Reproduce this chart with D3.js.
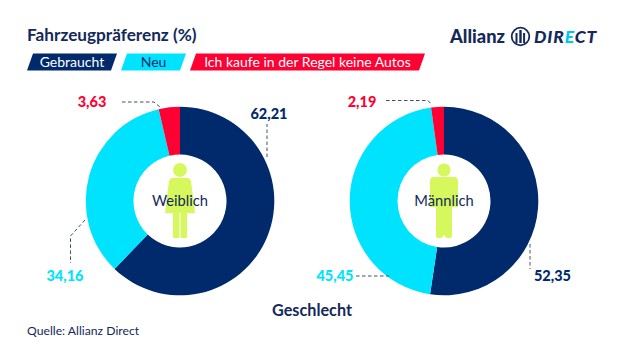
<!DOCTYPE html>
<html>
<head>
<meta charset="utf-8">
<script src="https://cdn.jsdelivr.net/npm/d3@7"></script>
<style>
  html, body { margin: 0; background: #fff; }
  svg { display: block; font-family: Lato, "Open Sans", sans-serif; }
</style>
</head>
<body>
<svg id="chart" width="624" height="361"></svg>
<script>
const categories = ['Gebraucht', 'Neu', 'Ich kaufe in der Regel keine Autos'];
const weiblich = [62.21, 34.16, 3.63];
const maennlich = [52.35, 45.45, 2.19];
const labelsWeiblich = ['62,21', '34,16', '3,63'];
const labelsMaennlich = ['52,35', '45,45', '2,19'];

const navy = '#002a6c';
const ink = '#13295a';
const lime = '#d6f85c';
const colors = d3.scaleOrdinal().domain(categories).range([navy, '#00e3ff', '#ff0033']);

const svg = d3.select('#chart');

svg.append('text').attr('x', 27).attr('y', 41)
  .attr('font-size', 17.2).attr('font-weight', 700).attr('fill', ink)
  .text('Fahrzeugpräferenz (%)');

// legend chips
const chips = [[27, 117], [121, 186], [190, 425]];
const chipTop = 53.5, chipBottom = 70.5, slant = 6;
const legend = svg.append('g').selectAll('g').data(categories).join('g');
legend.append('polygon')
  .attr('points', (d, i) => {
    const [a, b] = chips[i];
    return [[a + slant, chipTop], [b, chipTop], [b - slant, chipBottom], [a, chipBottom]].join(' ');
  })
  .attr('fill', (d) => colors(d));
legend.append('text')
  .attr('x', (d, i) => (chips[i][0] + chips[i][1]) / 2)
  .attr('y', 67)
  .attr('text-anchor', 'middle')
  .attr('font-size', 14)
  .attr('fill', (d, i) => (i === 1 ? navy : '#fff'))
  .text((d) => d);

// logo
const logo = svg.append('g');
logo.append('text').attr('x', 450).attr('y', 42.5)
  .attr('font-size', 18.3).attr('font-weight', 900).attr('fill', ink).text('Allianz');
logo.append('circle').attr('cx', 520.5).attr('cy', 36.5).attr('r', 8.8)
  .attr('fill', 'none').attr('stroke', ink).attr('stroke-width', 1.8);
logo.selectAll('rect').data([[515.5, 33, 2], [519.3, 30, 2.4], [523.1, 33, 2]]).join('rect')
  .attr('x', (d) => d[0]).attr('y', (d) => d[1])
  .attr('width', (d) => d[2]).attr('height', (d) => 43 - d[1])
  .attr('fill', ink);
const direct = logo.append('text').attr('x', 534).attr('y', 42.5)
  .attr('font-size', 17.5).attr('font-weight', 900).attr('font-style', 'italic')
  .attr('letter-spacing', 0.9).attr('fill', ink);
direct.append('tspan').text('DIR');
direct.append('tspan').attr('fill', '#00c8ee').text('E');
direct.append('tspan').text('CT');

const pie = d3.pie().sort(null).value((d) => d);
const arc = d3.arc().innerRadius(46.5).outerRadius(94.3);

function drawDonut(cx, cy, values) {
  svg.append('g')
    .attr('transform', `translate(${cx},${cy})`)
    .selectAll('path')
    .data(pie(values))
    .join('path')
    .attr('d', arc)
    .attr('fill', (d, i) => colors(categories[i]));
}

drawDonut(180, 201, weiblich);
drawDonut(444, 201, maennlich);

// figures inside the donut holes
function drawWoman(cx) {
  const g = svg.append('g').attr('fill', lime);
  g.append('circle').attr('cx', cx).attr('cy', 170).attr('r', 7);
  g.append('path').attr('d', `M${cx - 8},178 L${cx + 8},178 Q${cx + 10},178 ${cx + 11},181 L${cx + 15},213 L${cx - 15},213 L${cx - 11},181 Q${cx - 10},178 ${cx - 8},178 Z`);
  g.append('rect').attr('x', cx - 7).attr('y', 213).attr('width', 6.4).attr('height', 25);
  g.append('rect').attr('x', cx + 0.6).attr('y', 213).attr('width', 6.4).attr('height', 25);
}

function drawMan(cx) {
  const g = svg.append('g').attr('fill', lime);
  g.append('circle').attr('cx', cx).attr('cy', 170).attr('r', 6.6);
  g.append('path').attr('d', `M${cx - 10},177 L${cx + 10},177 Q${cx + 14},177 ${cx + 14},181 L${cx + 14},207 L${cx + 8},207 L${cx + 8},236 Q${cx + 8},238 ${cx + 4},238 Q${cx + 1},238 ${cx + 0.5},235 L${cx - 0.5},235 Q${cx - 1},238 ${cx - 4},238 Q${cx - 8},238 ${cx - 8},236 L${cx - 8},207 L${cx - 14},207 L${cx - 14},181 Q${cx - 14},177 ${cx - 10},177 Z`);
}

drawWoman(180);
drawMan(444);

svg.selectAll('.hole')
  .data([[180, 'Weiblich'], [444, 'Männlich']])
  .join('text')
  .attr('class', 'hole')
  .attr('x', (d) => d[0]).attr('y', 206)
  .attr('text-anchor', 'middle')
  .attr('font-size', 14.7)
  .attr('fill', ink)
  .text((d) => d[1]);

// leader lines
const leaders = [
  [[267, 157], [267, 124]],
  [[85, 220], [70.5, 236], [70.5, 263]],
  [[122, 102], [154, 102], [160, 107]],
  [[530, 244], [530, 269]],
  [[356, 276], [389, 276]],
  [[386, 100.5], [428, 100.5], [432, 105]],
];
const line = d3.line();
svg.append('g').selectAll('path').data(leaders).join('path')
  .attr('d', (d) => line(d))
  .attr('fill', 'none')
  .attr('stroke', '#3f5070')
  .attr('stroke-width', 1)
  .attr('stroke-dasharray', '3.5 2.5');

// value labels
const valueSpots = [
  [269, 119, labelsWeiblich[0], 0], [65, 281, labelsWeiblich[1], 1], [92, 107, labelsWeiblich[2], 2],
  [552.5, 281, labelsMaennlich[0], 0], [335, 281, labelsMaennlich[1], 1], [362, 107, labelsMaennlich[2], 2],
];
svg.append('g').selectAll('text').data(valueSpots).join('text')
  .attr('x', (d) => d[0]).attr('y', (d) => d[1])
  .attr('text-anchor', 'middle')
  .attr('font-size', 14.5)
  .attr('font-weight', 900)
  .attr('fill', (d) => colors(categories[d[3]]))
  .text((d) => d[2]);

svg.append('text').attr('x', 312).attr('y', 316)
  .attr('text-anchor', 'middle').attr('font-size', 16.2).attr('font-weight', 700).attr('fill', ink)
  .text('Geschlecht');

svg.append('text').attr('x', 27).attr('y', 335)
  .attr('font-size', 12.2).attr('fill', ink)
  .text('Quelle: Allianz Direct');
</script>
</body>
</html>
